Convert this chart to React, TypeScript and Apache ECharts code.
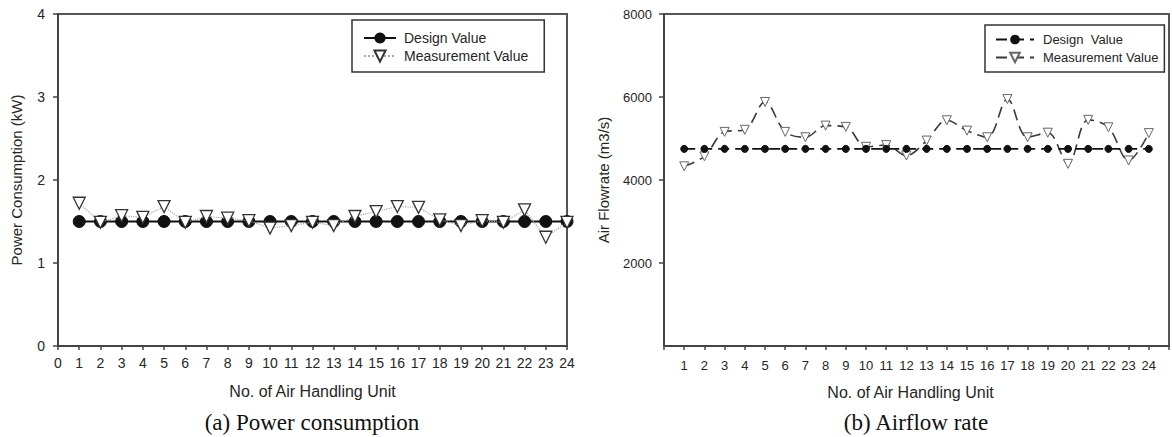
import React, { useEffect, useRef } from "react";
import * as echarts from "echarts";

const UNITS = [1, 2, 3, 4, 5, 6, 7, 8, 9, 10, 11, 12, 13, 14, 15, 16, 17, 18, 19, 20, 21, 22, 23, 24];

const POWER_DESIGN = [1.5, 1.5, 1.5, 1.5, 1.5, 1.5, 1.5, 1.5, 1.5, 1.5, 1.5, 1.5, 1.5, 1.5, 1.5, 1.5, 1.5, 1.5, 1.5, 1.5, 1.5, 1.5, 1.5, 1.5];
const POWER_MEASURED = [1.72, 1.49, 1.57, 1.55, 1.68, 1.49, 1.56, 1.54, 1.51, 1.42, 1.45, 1.49, 1.45, 1.56, 1.62, 1.68, 1.67, 1.52, 1.45, 1.51, 1.49, 1.64, 1.31, 1.49];

const FLOW_DESIGN = [4750, 4750, 4750, 4750, 4750, 4750, 4750, 4750, 4750, 4750, 4750, 4750, 4750, 4750, 4750, 4750, 4750, 4750, 4750, 4750, 4750, 4750, 4750, 4750];
const FLOW_MEASURED = [4330, 4570, 5160, 5210, 5880, 5160, 5030, 5310, 5280, 4800, 4840, 4590, 4950, 5440, 5190, 5030, 5950, 5030, 5140, 4390, 5450, 5270, 4470, 5130];

const POWER_TICKS = [0, 1, 2, 3, 4];
const FLOW_TICKS = [0, 2000, 4000, 6000, 8000];

const SANS = "'Liberation Sans', Arial, sans-serif";
const SERIF = "'Liberation Serif', 'Times New Roman', serif";
const TXT = "#262626";
const AX = "#444";

const pairs = (xs: number[], ys: number[]) => xs.map((x, i) => [x, ys[i]]);

function powerOption(): any {
  return {
    animation: false,
    backgroundColor: "#fff",
    grid: {
      left: 58, top: 14, width: 509, height: 332,
      show: true, borderColor: "#555", borderWidth: 2, backgroundColor: "transparent",
    },
    legend: {
      orient: "vertical", left: 352, top: 20,
      padding: [11, 16, 9, 11],
      borderColor: "#333", borderWidth: 1.5,
      itemWidth: 32, itemHeight: 14, itemGap: 4,
      textStyle: { fontFamily: SANS, fontSize: 14, color: TXT, padding: [0, 0, 0, 3] },
      data: ["Design Value", "Measurement Value"],
    },
    xAxis: {
      type: "value", min: 0, max: 24, interval: 1,
      name: "No. of Air Handling Unit", nameLocation: "middle", nameGap: 37,
      nameTextStyle: { fontFamily: SANS, fontSize: 16, color: TXT },
      axisLine: { lineStyle: { color: AX, width: 2 } },
      axisTick: { show: true, length: 4, lineStyle: { color: AX, width: 1.5 } },
      axisLabel: { fontFamily: SANS, fontSize: 14, color: TXT, margin: 10 },
      splitLine: { show: false },
    },
    yAxis: {
      type: "value", min: POWER_TICKS[0], max: POWER_TICKS[POWER_TICKS.length - 1], interval: 1,
      name: "Power Consumption (kW)", nameLocation: "middle", nameGap: 34,
      nameTextStyle: { fontFamily: SANS, fontSize: 15, color: TXT },
      axisLine: { show: true, lineStyle: { color: AX, width: 2 } },
      axisTick: { show: true, length: 5, lineStyle: { color: AX, width: 1.5 } },
      axisLabel: { fontFamily: SANS, fontSize: 14, color: TXT, margin: 13 },
      splitLine: { show: false },
    },
    series: [
      {
        name: "Design Value", type: "line",
        data: pairs(UNITS, POWER_DESIGN),
        symbol: "circle", symbolSize: 12,
        lineStyle: { color: "#111", width: 2 },
        itemStyle: { color: "#111", borderColor: "#111" },
        z: 2,
      },
      {
        name: "Measurement Value", type: "line",
        data: pairs(UNITS, POWER_MEASURED),
        symbol: "triangle", symbolRotate: 180, symbolSize: 12,
        lineStyle: { color: "#aaa", width: 1.2, type: "dotted" },
        itemStyle: { color: "#fff", borderColor: "#333", borderWidth: 1.3 },
        z: 3,
      },
    ],
    graphic: [
      {
        type: "text", x: 312, y: 422,
        style: {
          text: "(a) Power consumption", font: `23px ${SERIF}`, fill: "#111",
          textAlign: "center", textVerticalAlign: "middle",
        },
      },
    ],
  };
}

function flowOption(): any {
  return {
    animation: false,
    backgroundColor: "#fff",
    grid: {
      left: 78, top: 14, width: 516, height: 332,
      show: true, borderColor: "#555", borderWidth: 2, backgroundColor: "transparent",
    },
    legend: {
      orient: "vertical", left: 399, top: 25,
      padding: [8, 6, 8, 10],
      borderColor: "#333", borderWidth: 1.5,
      itemWidth: 38, itemHeight: 12, itemGap: 5,
      textStyle: { fontFamily: SANS, fontSize: 13, color: TXT, padding: [0, 0, 0, 4] },
      data: ["Design  Value", "Measurement Value"],
    },
    xAxis: {
      type: "value", min: 0, max: 25, interval: 1,
      name: "No. of Air Handling Unit", nameLocation: "middle", nameGap: 38,
      nameTextStyle: { fontFamily: SANS, fontSize: 16, color: TXT, padding: [0, 12, 0, 0] },
      axisLine: { lineStyle: { color: AX, width: 2 } },
      axisTick: { show: true, length: 4, lineStyle: { color: AX, width: 1.5 } },
      axisLabel: {
        fontFamily: SANS, fontSize: 13, color: TXT, margin: 13,
        formatter: (v: number) => (v >= 1 && v <= 24 ? String(v) : ""),
      },
      splitLine: { show: false },
    },
    yAxis: {
      type: "value", min: FLOW_TICKS[0], max: FLOW_TICKS[FLOW_TICKS.length - 1], interval: 2000,
      name: "Air Flowrate (m3/s)", nameLocation: "middle", nameGap: 53,
      nameTextStyle: { fontFamily: SANS, fontSize: 15, color: TXT },
      axisLine: { show: true, lineStyle: { color: AX, width: 2 } },
      axisTick: { show: true, length: 5, lineStyle: { color: AX, width: 1.5 } },
      axisLabel: {
        fontFamily: SANS, fontSize: 13, color: TXT, margin: 12, showMinLabel: false,
        formatter: (v: number) => (v === 0 ? "" : String(v)),
      },
      splitLine: { show: false },
    },
    series: [
      {
        name: "Measurement Value", type: "line",
        data: pairs(UNITS, FLOW_MEASURED),
        smooth: 0.35,
        symbol: "triangle", symbolRotate: 180, symbolSize: 9,
        lineStyle: { color: "#3a3a3a", width: 1.6, type: [11, 6] },
        itemStyle: { color: "#fff", borderColor: "#666", borderWidth: 1 },
        z: 2,
      },
      {
        name: "Design  Value", type: "line",
        data: pairs(UNITS, FLOW_DESIGN),
        symbol: "circle", symbolSize: 7,
        lineStyle: { color: "#111", width: 1.6, type: [11, 6] },
        itemStyle: { color: "#111", borderColor: "#111" },
        z: 3,
      },
    ],
    graphic: [
      {
        type: "text", x: 330, y: 422,
        style: {
          text: "(b) Airflow rate", font: `23px ${SERIF}`, fill: "#111",
          textAlign: "center", textVerticalAlign: "middle",
        },
      },
    ],
  };
}

function Chart({ option, left, width }: { option: any; left: number; width: number }) {
  const ref = useRef<HTMLDivElement>(null);
  useEffect(() => {
    if (!ref.current) return;
    const chart = echarts.init(ref.current, undefined, { renderer: "svg" });
    chart.setOption(option);
    return () => chart.dispose();
  }, []);
  return (
    <div
      ref={ref}
      style={{ position: "absolute", left, top: 0, width, height: 437, overflow: "hidden" }}
    />
  );
}

export default function App() {
  return (
    <div style={{ position: "fixed", left: 0, top: 0, width: 1172, height: 437, background: "#fff", overflow: "hidden" }}>
      <Chart option={powerOption()} left={0} width={586} />
      <Chart option={flowOption()} left={586} width={586} />
    </div>
  );
}
